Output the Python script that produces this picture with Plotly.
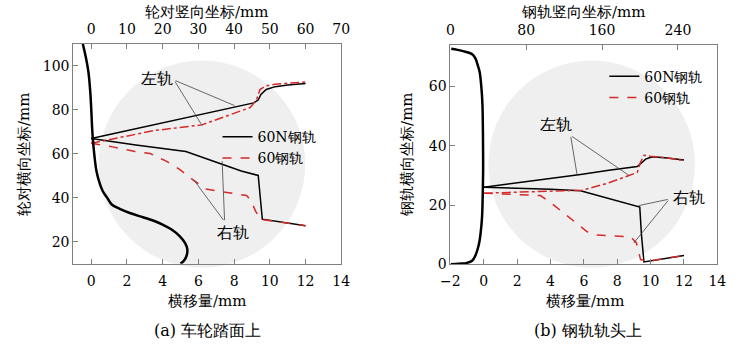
import plotly.graph_objects as go

FONT = "DejaVu Serif"
RED = "#d42a2a"

# ---------------- (a) wheel tread ----------------
a_wheel_vert = [-2.35, -1.5, -0.75, -0.25, 0, 0.25, 0.5, 0.85, 1.5, 2.5, 3.25, 4.5, 5.75, 8, 11, 14.5, 17.5, 20, 22.5, 24.75, 26.25, 26.9, 26.75, 26, 25]
a_wheel_lat = [110, 104, 97, 88, 81, 72, 66, 60, 52, 46, 43, 40, 37, 35, 33, 31.2, 29.6, 27.8, 25.6, 22.6, 19.5, 16.7, 14, 11.5, 10]

a_left60n_x = [0, 3, 6, 9.1, 9.35, 9.5, 9.8, 10.3, 11, 12]
a_left60n_y = [67, 72.3, 77.6, 83.2, 84.5, 87, 89.3, 90.6, 91.3, 92.0]
a_left60_x = [0, 3.5, 6.2, 8.9, 9.25, 9.45, 9.8, 10.4, 11, 12]
a_left60_y = [64.8, 70.6, 73.2, 81.1, 84.5, 89.3, 91.0, 91.8, 92.2, 92.7]
a_right60n_x = [0, 2.5, 5.3, 8.4, 9.35, 9.58, 12]
a_right60n_y = [67, 64, 61.1, 52.2, 50.2, 30.3, 27.3]
a_right60_x = [0, 1.2, 2.45, 3.3, 4.2, 4.95, 5.7, 6.4, 7.5, 8.7, 8.95, 9.2, 9.47, 10.5, 12]
a_right60_y = [64.8, 63.2, 61.1, 60.2, 56.7, 53, 48.2, 44.1, 42.6, 41.1, 38.8, 34, 30.3, 29, 27.3]

# ---------------- (b) rail head ----------------
b_rail_vert = [0.9, 12.3, 22.5, 26.4, 28.5, 30.8, 32.6, 33.8, 34.3, 34.5, 34.5, 34.0, 33.4, 31.7, 29.9, 26.4, 22.9, 17.6, 8.8, 0.4]
b_rail_lat = [72.7, 72, 71, 69.5, 67.5, 65, 60, 54, 45, 37, 31, 22, 16, 10, 6.5, 3, 1.2, 0.5, 0.2, 0]

b_left60n_x = [0, 2, 4, 5.8, 7.5, 9.2, 9.45, 9.7, 10.1, 11, 12]
b_left60n_y = [26, 27.4, 28.9, 30.3, 31.7, 33, 34.2, 35.5, 36.3, 35.9, 35.2]
b_left60_x = [0, 1.5, 3.4, 5.9, 7.5, 9.2, 9.4, 9.6, 10.0, 11, 12]
b_left60_y = [24, 24.3, 24.6, 25.0, 27.5, 31, 34.5, 36.8, 36.5, 35.9, 35.0]
b_right60n_x = [0, 2, 4, 5.8, 7.5, 9.35, 9.45, 9.6, 12]
b_right60n_y = [26, 25.7, 25.3, 24.8, 22.1, 19.3, 10, 0.8, 3.0]
b_right60_x = [0, 3.4, 4.1, 6.2, 6.7, 8.8, 9.15, 9.4, 9.9, 12]
b_right60_y = [24, 23.2, 20.4, 11, 9.9, 9.3, 7.2, 1.6, 1.1, 3.0]

# labels: (text, text_x, text_y, apex_x, apex_y, [(end_x, end_y), ...])
a_labels = [("左轨", 3.66, 94.4, 4.64, 93.6, [(8.02, 82), (6.2, 73)]),
            ("右轨", 7.93, 24.1, 7.47, 29.2, [(7.33, 56.7), (5.74, 48.2)])]
b_labels = [("左轨", 4.33, 47.3, 5.2, 43.5, [(5.59, 30.3), (8.70, 30.0)]),
            ("右轨", 12.28, 22.5, 11.12, 22.0, [(9.28, 19.8), (8.99, 7.2)])]

series_names = ["60N钢轨", "60钢轨"]
a_bottom_ticks = list(range(0, 15, 2))
a_top_ticks = list(range(0, 71, 10))
a_y_ticks = [20, 40, 60, 80, 100]
b_bottom_ticks = list(range(-2, 15, 2))
b_top_ticks = [0, 80, 160, 240]
b_y_ticks = [0, 20, 40, 60]

fig = go.Figure()

def add_set(xa, ya, xtop, legend, wheel_x, wheel_y, l60n, l60, r60n, r60):
    fig.add_trace(go.Scatter(x=wheel_x, y=wheel_y, xaxis=xtop, yaxis=ya, mode="lines",
                             line=dict(color="black", width=2.5, shape="spline"), showlegend=False))
    fig.add_trace(go.Scatter(x=l60n[0], y=l60n[1], xaxis=xa, yaxis=ya, mode="lines",
                             line=dict(color="black", width=1.5), name=series_names[0], legend=legend))
    fig.add_trace(go.Scatter(x=r60n[0], y=r60n[1], xaxis=xa, yaxis=ya, mode="lines",
                             line=dict(color="black", width=1.5), showlegend=False))
    fig.add_trace(go.Scatter(x=r60[0], y=r60[1], xaxis=xa, yaxis=ya, mode="lines",
                             line=dict(color=RED, width=1.5, dash="dash"), name=series_names[1], legend=legend))
    fig.add_trace(go.Scatter(x=l60[0], y=l60[1], xaxis=xa, yaxis=ya, mode="lines",
                             line=dict(color=RED, width=1.5, dash="dashdot"), showlegend=False))

add_set("x", "y", "x2", "legend", a_wheel_vert, a_wheel_lat,
        (a_left60n_x, a_left60n_y), (a_left60_x, a_left60_y),
        (a_right60n_x, a_right60n_y), (a_right60_x, a_right60_y))
add_set("x3", "y2", "x4", "legend2", b_rail_vert, b_rail_lat,
        (b_left60n_x, b_left60n_y), (b_left60_x, b_left60_y),
        (b_right60n_x, b_right60n_y), (b_right60_x, b_right60_y))

annotations = []
for labels, xr, yr in [(a_labels, "x", "y"), (b_labels, "x3", "y2")]:
    for text, tx, ty, ax_, ay_, ends in labels:
        annotations.append(dict(x=tx, y=ty, xref=xr, yref=yr, text=text, showarrow=False,
                                font=dict(size=16, family=FONT, color="black")))
        for ex, ey in ends:
            annotations.append(dict(x=ex, y=ey, xref=xr, yref=yr, ax=ax_, ay=ay_, axref=xr, ayref=yr,
                                    text="", showarrow=True, arrowhead=0, arrowwidth=0.8,
                                    arrowcolor="#444", standoff=0, startstandoff=0))

def title_ann(text, x, y, angle=0, size=15):
    annotations.append(dict(x=x / 740, y=1 - y / 351, xref="paper", yref="paper", text=text,
                            showarrow=False, textangle=angle, xanchor="center", yanchor="middle",
                            font=dict(size=size, family=FONT, color="black")))

title_ann("轮对竖向坐标/mm", 202, 12)
title_ann("钢轨竖向坐标/mm", 589, 12)
title_ann("轮对横向坐标/mm", 15, 158, -90)
title_ann("钢轨横向坐标/mm", 408, 158, -90)
title_ann("横移量/mm", 203, 308)
title_ann("横移量/mm", 591, 308)
title_ann("(a) 车轮踏面上", 203, 338, size=16)
title_ann("(b) 钢轨轨头上", 593, 338, size=16)

axis_common = dict(showline=True, linecolor="#808080", linewidth=1, ticks="inside", ticklen=5,
                   tickcolor="#808080", showgrid=False, zeroline=False,
                   tickfont=dict(size=14, family=FONT, color="black"))

A_DOM_X = [65 / 740, 340 / 740]
A_DOM_Y = [1 - 270 / 351, 1 - 45 / 351]
B_DOM_X = [452 / 740, 726 / 740]
B_DOM_Y = [1 - 270.5 / 351, 1 - 46 / 351]

fig.update_layout(
    width=740, height=351, margin=dict(l=0, r=0, t=0, b=0),
    paper_bgcolor="white", plot_bgcolor="rgba(0,0,0,0)",
    font=dict(family=FONT, size=14, color="black"),
    xaxis=dict(domain=A_DOM_X, range=[-1, 14], tickvals=a_bottom_ticks, anchor="y", side="bottom",
               ticklabelstandoff=4, **axis_common),
    xaxis2=dict(range=[-5, 70], tickvals=a_top_ticks, overlaying="x", anchor="y", side="top",
                ticklabelstandoff=3, **axis_common),
    yaxis=dict(domain=A_DOM_Y, range=[10, 110], tickvals=a_y_ticks, anchor="x", mirror=True, **axis_common),
    xaxis3=dict(domain=B_DOM_X, range=[-2, 14], tickvals=b_bottom_ticks, anchor="y2", side="bottom",
                ticklabelstandoff=4, **axis_common),
    xaxis4=dict(range=[0, 281.6], tickvals=b_top_ticks, overlaying="x3", anchor="y2", side="top",
                ticklabelstandoff=3, **axis_common),
    yaxis2=dict(domain=B_DOM_Y, range=[0, 74], tickvals=b_y_ticks, anchor="x3", mirror=True, **axis_common),
    legend=dict(x=213 / 740, y=1 - 124 / 351, xanchor="left", yanchor="top", bgcolor="rgba(0,0,0,0)",
                font=dict(size=14, family=FONT), itemwidth=30, tracegroupgap=0),
    legend2=dict(x=610 / 740, y=1 - 62 / 351, xanchor="left", yanchor="top", bgcolor="rgba(0,0,0,0)",
                 font=dict(size=14, family=FONT), itemwidth=30, tracegroupgap=0),
    annotations=annotations,
    shapes=[
        dict(type="circle", xref="paper", yref="paper", layer="below",
             x0=(197 - 106) / 740, x1=(197 + 106) / 740, y0=1 - (168 + 106) / 351, y1=1 - (168 - 106) / 351,
             fillcolor="#efefef", line=dict(width=0)),
        dict(type="circle", xref="paper", yref="paper", layer="below",
             x0=(597 - 106) / 740, x1=(597 + 106) / 740, y0=1 - (168 + 106) / 351, y1=1 - (168 - 106) / 351,
             fillcolor="#efefef", line=dict(width=0)),
    ],
)

fig.write_html("out.html")
